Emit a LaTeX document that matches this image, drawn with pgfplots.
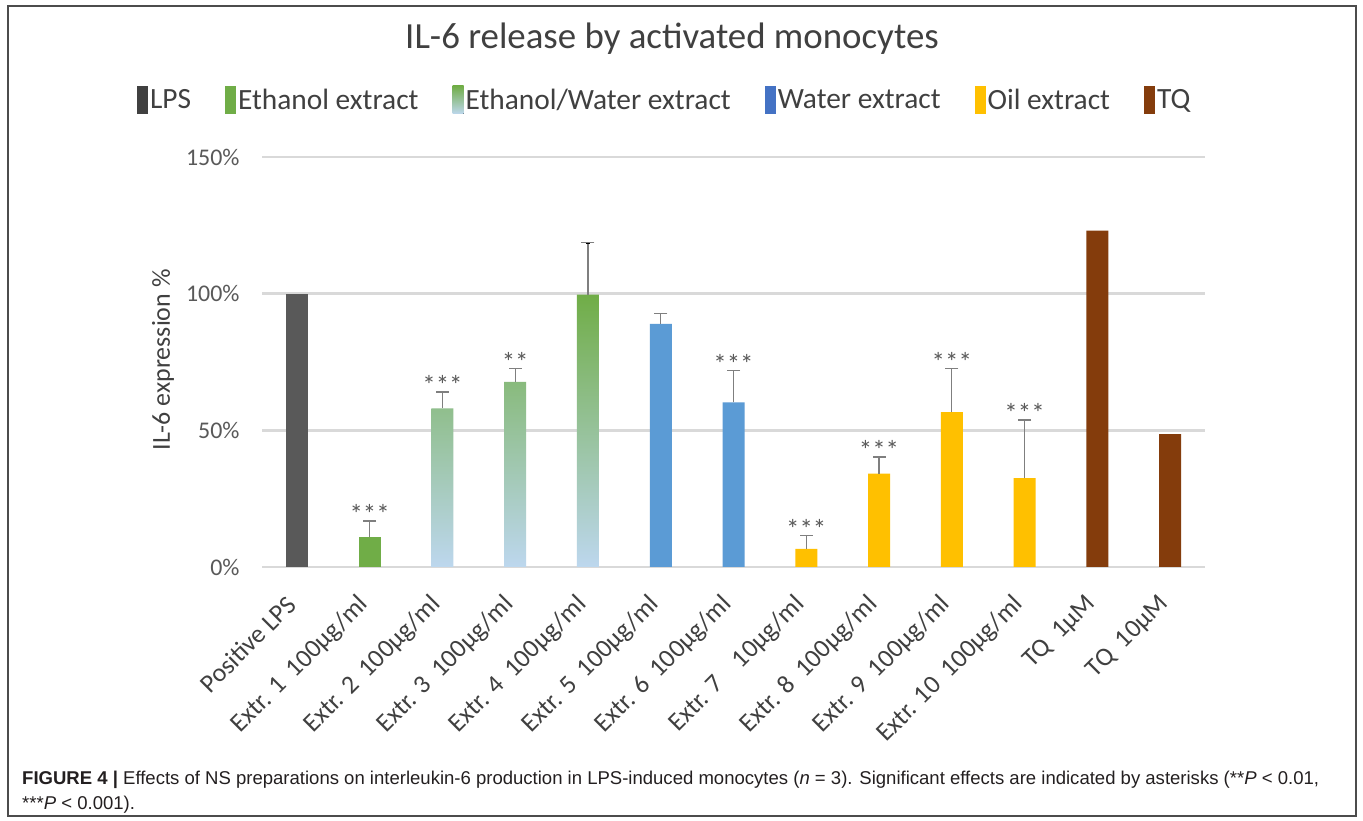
\documentclass[border=0pt]{standalone}
\usepackage{pgfplots}
\pgfplotsset{compat=1.18}
\usepackage{fontspec}
\setmainfont{Carlito}
\newfontfamily\capfont{Liberation Sans}
\definecolor{lpsgray}{HTML}{595959}
\definecolor{lpsleg}{HTML}{404040}
\definecolor{grn}{HTML}{70AD47}
\definecolor{lblue}{HTML}{BDD7EE}
\definecolor{wblue}{HTML}{5B9BD5}
\definecolor{wleg}{HTML}{4472C4}
\definecolor{oil}{HTML}{FFC000}
\definecolor{tq}{HTML}{843C0C}
\definecolor{gridc}{HTML}{D9D9D9}
\definecolor{txt}{HTML}{404040}
\definecolor{tickc}{HTML}{595959}
\definecolor{errc}{HTML}{7F7F7F}
\definecolor{capc}{HTML}{231F20}

\begin{document}
\begin{tikzpicture}[x=1bp,y=1bp]
\path[use as bounding box] (0,0) rectangle (1363,820);
\fill[white] (0,0) rectangle (1363,820);
\draw[line width=1.4bp, color=black!70] (8,4) rectangle (1356,814);
\begin{axis}[
  at={(262bp,253bp)}, anchor=south west,
  scale only axis, width=943bp, height=410bp,
  xmin=-0.48, xmax=12.48, ymin=0, ymax=150,
  enlargelimits=false,
  axis line style={draw=none},
  major tick length=0pt,
  ytick={0,50,100,150},
  yticklabels={0\%,50\%,100\%,150\%},
  yticklabel style={font=\fontsize{24}{28}\selectfont, text=tickc, xshift=-19bp},
  ymajorgrids, grid style={line width=2.8bp, gridc},
  xtick={0,...,12},
  xticklabels={Positive LPS,
    Extr. 1\ \ 100µg/ml,
    Extr. 2\ \ 100µg/ml,
    Extr. 3\ \ 100µg/ml,
    Extr. 4\ \ 100µg/ml,
    Extr. 5\ \ 100µg/ml,
    Extr. 6\ \ 100µg/ml,
    Extr. 7\ \ \ \ 10µg/ml,
    Extr. 8\ \ 100µg/ml,
    Extr. 9\ \ 100µg/ml,
    Extr. 10\ \ 100µg/ml,
    TQ\ \ 1µM,
    TQ\ \ 10µM},
  xticklabel style={xshift=-3bp, yshift=-31bp, rotate=45, anchor=east, font=\fontsize{26}{30}\selectfont, text=txt},
  clip=false,
  title={IL-6 release by activated monocytes},
  title style={at={(rel axis cs:0.4348,1.273)}, anchor=center, font=\fontsize{37}{42}\selectfont, text=txt},
  ylabel={IL-6 expression \%},
  every axis y label/.style={at={(rel axis cs:-0.105,0.505)}, rotate=90, anchor=center, font=\fontsize{26}{30}\selectfont, text=txt},
  legend image code/.code={\fill[#1] (0bp,-14bp) rectangle (11bp,14bp);},
  legend style={at={(rel axis cs:0.427,1.139)}, anchor=center, draw=none, fill=none,
    legend columns=6, font=\fontsize{29.5}{32}\selectfont, text=txt,
    nodes={inner sep=2bp},
    /tikz/every even column/.append style={column sep=32bp}},
  legend cell align=left,
]
\addlegendimage{fill=lpsleg, draw=none}
\addlegendentry{LPS}
\addlegendimage{fill=grn, draw=none}
\addlegendentry{Ethanol extract}
\addlegendimage{top color=grn, bottom color=lblue, draw=none}
\addlegendentry{Ethanol/Water extract}
\addlegendimage{fill=wleg, draw=none}
\addlegendentry{Water extract}
\addlegendimage{fill=oil, draw=none}
\addlegendentry{Oil extract}
\addlegendimage{fill=tq, draw=none}
\addlegendentry{TQ}

% LPS
\addplot[ybar, bar width=22bp, bar shift=0pt, draw=none, fill=lpsgray, forget plot]
  coordinates {(0,100)};
% Ethanol
\addplot[ybar, bar width=22bp, bar shift=0pt, draw=none, fill=grn, forget plot]
  coordinates {(1,11.1)};
% Ethanol/Water (gradient)
\addplot[ybar, bar width=22bp, bar shift=0pt, draw=none, top color=grn, bottom color=lblue, forget plot]
  coordinates {(2,58.0) (3,67.7) (4,99.6)};
% Water
\addplot[ybar, bar width=22bp, bar shift=0pt, draw=none, fill=wblue, forget plot]
  coordinates {(5,88.9) (6,60.2)};
% Oil
\addplot[ybar, bar width=22bp, bar shift=0pt, draw=none, fill=oil, forget plot]
  coordinates {(7,6.6) (8,34.2) (9,56.7) (10,32.5)};
% TQ
\addplot[ybar, bar width=22bp, bar shift=0pt, draw=none, fill=tq, forget plot]
  coordinates {(11,123.1) (12,48.6)};

% error bars (upper only)
\addplot[draw=none, mark=none, forget plot,
  error bars/.cd, y dir=plus, y explicit,
  error bar style={draw=errc, line width=1.3bp, solid}]
  coordinates {
    (1,11.1) +- (0,5.7)
    (2,58.0) +- (0,6.0)
    (3,67.7) +- (0,4.9)
    (4,99.6) +- (0,19.0)
    (5,88.9) +- (0,3.8)
    (6,60.2) +- (0,11.7)
    (7,6.6) +- (0,4.9)
    (8,34.2) +- (0,6.0)
    (9,56.7) +- (0,15.9)
    (10,32.5) +- (0,21.3)
  };
% error bar caps (at mean + error)
\addplot[only marks, mark=-, mark size=6.5bp, forget plot,
  mark options={draw=errc, line width=1.3bp, solid}]
  coordinates {
    (1,16.8) (2,64.0) (3,72.6) (4,118.6) (5,92.7)
    (6,71.9) (7,11.5) (8,40.2) (9,72.6) (10,53.8)
  };

% significance asterisks
\addplot[draw=none, mark=none, forget plot,
  nodes near coords, point meta=explicit symbolic,
  every node near coord/.append style={font=\fontsize{27}{30}\selectfont, text=tickc, anchor=south, inner sep=0pt, yshift=-3bp}]
  coordinates {
    (1,16.8) [***]
    (2,64.0) [***]
    (3,72.6) [**]
    (6,71.9) [***]
    (7,11.5) [***]
    (8,40.2) [***]
    (9,72.6) [***]
    (10,53.8) [***]
  };
\end{axis}
\node[anchor=north west, inner sep=0pt, align=left, text=capc,
      font=\capfont\fontsize{18.6}{25}\selectfont] at (22,49)
  {\textbf{FIGURE 4 |} Effects of NS preparations on interleukin-6 production in LPS-induced monocytes (\textit{n} = 3). Significant effects are indicated by asterisks (**\textit{P} < 0.01,\\
  ***\textit{P} < 0.001).};
\end{tikzpicture}
\end{document}
